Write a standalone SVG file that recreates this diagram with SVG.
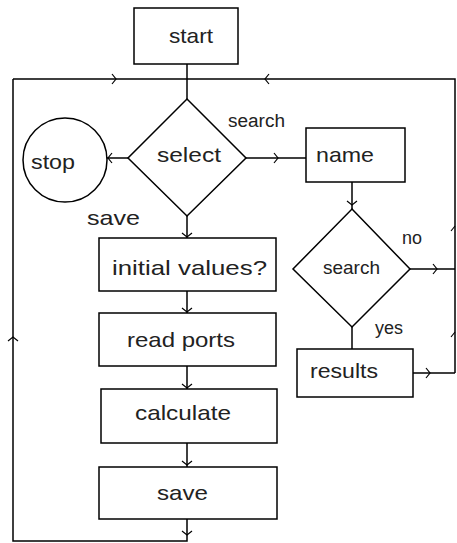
<svg xmlns="http://www.w3.org/2000/svg" width="457" height="543" viewBox="0 0 457 543">
<style>
.s{fill:#fff;stroke:#000;stroke-width:1.5}
.c{fill:none;stroke:#000;stroke-width:1.5}
.a{fill:none;stroke:#000;stroke-width:1.2}
text{font-family:"Liberation Sans",Arial,sans-serif;fill:#222}
.b{font-size:21px}
.l{font-size:18px}
.d{font-size:19px}
</style>
<defs>
<path id="ch" d="M-4,-5 L0,0 L-4,5" class="a"/>
</defs>
<rect width="457" height="543" fill="#fff"/>
<g id="connectors">
<path class="c" d="M187,64 V99"/>
<path class="c" d="M13,79 H455 V373"/>
<path class="c" d="M13,79 V541 H187 V519"/>
<path class="c" d="M128,158 H107"/>
<path class="c" d="M246,158 H306"/>
<path class="c" d="M352,182 V209"/>
<path class="c" d="M410,269 H455"/>
<path class="c" d="M352,327 V349"/>
<path class="c" d="M413,373 H455"/>
<path class="c" d="M187,216 V238"/>
<path class="c" d="M187,291 V313"/>
<path class="c" d="M187,366 V389"/>
<path class="c" d="M187,443 V467"/>
<use href="#ch" transform="translate(116,79)"/>
<use href="#ch" transform="translate(265,79) rotate(180)"/>
<use href="#ch" transform="translate(108,158) rotate(180)"/>
<use href="#ch" transform="translate(278,158)"/>
<use href="#ch" transform="translate(352,205) rotate(90)"/>
<use href="#ch" transform="translate(437,269)"/>
<use href="#ch" transform="translate(430,373)"/>
<path class="a" d="M451,231 L455,226"/>
<path class="a" d="M451,337 L455,332"/>
<use href="#ch" transform="translate(187,237) rotate(90)"/>
<use href="#ch" transform="translate(187,312) rotate(90)"/>
<use href="#ch" transform="translate(187,388) rotate(90)"/>
<use href="#ch" transform="translate(187,465) rotate(90)"/>
<use href="#ch" transform="translate(187,535) rotate(90)"/>
<use href="#ch" transform="translate(13,337) rotate(-90)"/>
</g>
<g id="start"><rect class="s" x="134" y="8" width="104" height="56"/><text class="b" x="169" y="43" textLength="44" lengthAdjust="spacingAndGlyphs">start</text></g>
<g id="select"><path class="s" d="M187,99 L246,158 L187,216 L128,158 Z"/><text class="b" x="157" y="162" textLength="64" lengthAdjust="spacingAndGlyphs">select</text></g>
<g id="stop"><circle class="s" cx="65" cy="160" r="42"/><text class="b" x="31" y="169" textLength="44" lengthAdjust="spacingAndGlyphs">stop</text></g>
<g id="name"><rect class="s" x="306" y="128" width="99" height="54"/><text class="b" x="316" y="162" textLength="58" lengthAdjust="spacingAndGlyphs">name</text></g>
<g id="search"><path class="s" d="M352,209 L410,269 L352,327 L293,269 Z"/><text class="d" x="323" y="274" textLength="57" lengthAdjust="spacingAndGlyphs">search</text></g>
<g id="results"><rect class="s" x="297" y="349" width="116" height="48"/><text class="b" x="310" y="378" textLength="68" lengthAdjust="spacingAndGlyphs">results</text></g>
<g id="initial"><rect class="s" x="99" y="238" width="177" height="53"/><text class="b" x="112" y="275" textLength="155" lengthAdjust="spacingAndGlyphs">initial values?</text></g>
<g id="readports"><rect class="s" x="99" y="313" width="177" height="53"/><text class="b" x="127" y="347" textLength="108" lengthAdjust="spacingAndGlyphs">read ports</text></g>
<g id="calculate"><rect class="s" x="101" y="389" width="176" height="54"/><text class="b" x="135" y="420" textLength="96" lengthAdjust="spacingAndGlyphs">calculate</text></g>
<g id="save"><rect class="s" x="99" y="467" width="178" height="52"/><text class="b" x="157" y="500" textLength="51" lengthAdjust="spacingAndGlyphs">save</text></g>
<g id="labels">
<text class="l" x="228" y="127" textLength="57" lengthAdjust="spacingAndGlyphs">search</text>
<text class="b" x="87" y="225" textLength="53" lengthAdjust="spacingAndGlyphs">save</text>
<text class="l" x="402" y="244" textLength="20" lengthAdjust="spacingAndGlyphs">no</text>
<text class="l" x="375" y="334" textLength="28" lengthAdjust="spacingAndGlyphs">yes</text>
</g>
</svg>
